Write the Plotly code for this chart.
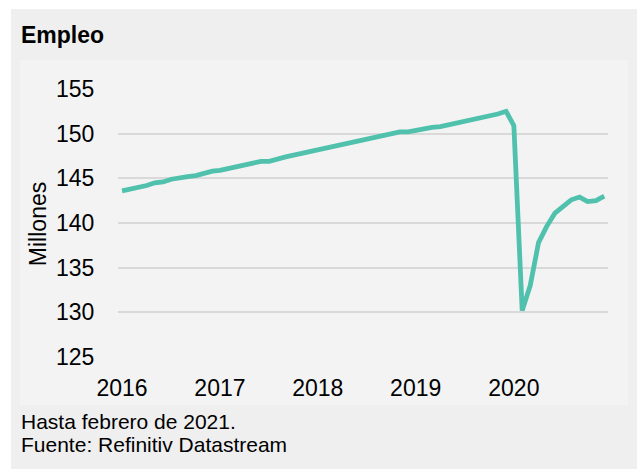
import pandas as pd
import plotly.graph_objects as go

# ---- data ----
start_month = "2016-03-01"
empleo = [
    143.6, 143.8, 143.9, 144.2, 144.5, 144.6, 144.9, 145.1, 145.2, 145.3,
    145.6, 145.8, 145.9, 146.1, 146.3, 146.5, 146.7, 146.9, 146.9, 147.2, 147.4, 147.6,
    147.8, 148.1, 148.3, 148.4, 148.7, 148.9, 149.1, 149.3, 149.4, 149.7, 149.8, 150.0,
    150.2, 150.2, 150.4, 150.6, 150.7, 150.8, 151.0, 151.2, 151.4, 151.6, 151.8, 151.9,
    152.2, 152.5, 150.9, 130.2, 133.0, 137.8, 139.6, 141.1, 141.8, 142.6, 142.9, 142.4,
    142.5, 143.0,
]
year_labels = ["2016", "2017", "2018", "2019", "2020"]
y_ticks = [125, 130, 135, 140, 145, 150, 155]

fechas = pd.date_range(start_month, periods=len(empleo), freq="MS")
tick_dates = [fechas[i * 12] for i in range(len(year_labels))]

W, H = 637, 469
L, R, T, B = 118, 608, 89, 356.7
FONT = "Liberation Sans, Arial, sans-serif"


def px_x(p):
    return (p - L) / (R - L)


def px_y(p):
    return (B - p) / (B - T)


fig = go.Figure()
fig.add_trace(go.Scatter(
    x=fechas, y=empleo, mode="lines",
    line=dict(color="#4fc1ad", width=4.8),
    hoverinfo="x+y", showlegend=False,
))

shapes = [
    dict(type="rect", xref="paper", yref="paper", layer="below",
         x0=px_x(11), x1=px_x(637), y0=px_y(469), y1=px_y(9),
         fillcolor="#efefef", line=dict(width=0)),
    dict(type="rect", xref="paper", yref="paper", layer="below",
         x0=px_x(20), x1=px_x(628), y0=px_y(405), y1=px_y(60),
         fillcolor="#f3f3f3", line=dict(width=0)),
]

annotations = [
    dict(text="<b>Empleo</b>", xref="paper", yref="paper",
         x=px_x(18.5), y=px_y(35), xanchor="left", yanchor="middle",
         showarrow=False, font=dict(family=FONT, size=23, color="#000")),
    dict(text="Millones", xref="paper", yref="paper", textangle=-90,
         x=px_x(38), y=px_y(224), xanchor="center", yanchor="middle",
         showarrow=False, font=dict(family=FONT, size=23, color="#000")),
    dict(text="Hasta febrero de 2021.", xref="paper", yref="paper",
         x=px_x(18.5), y=px_y(421), xanchor="left", yanchor="middle",
         showarrow=False, font=dict(family=FONT, size=21, color="#000")),
    dict(text="Fuente: Refinitiv Datastream", xref="paper", yref="paper",
         x=px_x(18.5), y=px_y(444), xanchor="left", yanchor="middle",
         showarrow=False, font=dict(family=FONT, size=21, color="#000")),
]

fig.update_layout(
    width=W, height=H,
    margin=dict(l=L, r=W - R, t=T, b=H - B, autoexpand=False),
    paper_bgcolor="#ffffff", plot_bgcolor="rgba(0,0,0,0)",
    font=dict(family=FONT, size=23, color="#000"),
    shapes=shapes, annotations=annotations,
    xaxis=dict(
        type="date", range=["2016-02-15", "2021-02-15"],
        tickvals=tick_dates, ticktext=year_labels,
        showgrid=False, zeroline=False, showline=False,
        ticks="outside", ticklen=10, tickcolor="rgba(0,0,0,0)",
        tickfont=dict(family=FONT, size=23, color="#000"),
    ),
    yaxis=dict(
        range=[125, 155], tickvals=y_ticks,
        showgrid=True, gridcolor="#d9d9d9", gridwidth=1.5,
        zeroline=False, showline=False,
        ticks="outside", ticklen=18, tickcolor="rgba(0,0,0,0)",
        tickfont=dict(family=FONT, size=23, color="#000"),
    ),
)

fig.write_html("out.html")
